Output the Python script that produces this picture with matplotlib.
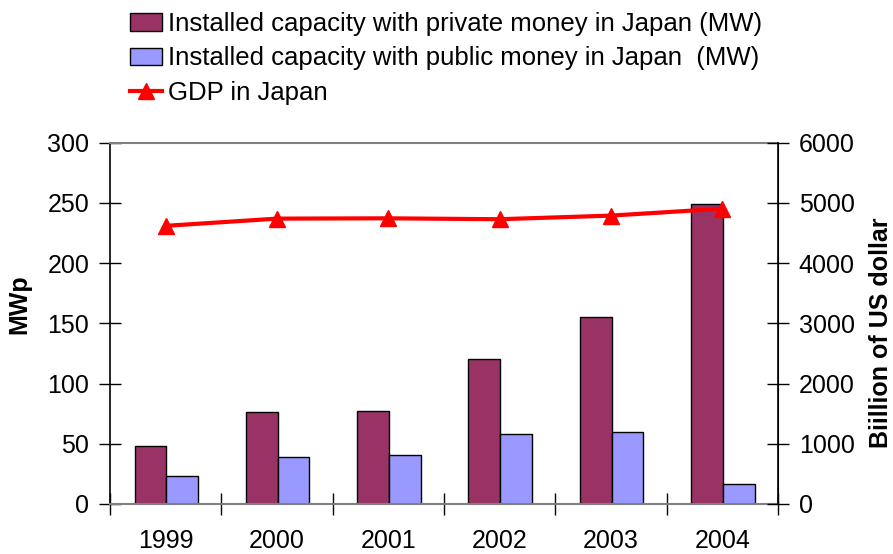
import numpy as np
import matplotlib
matplotlib.use("Agg")
import matplotlib.pyplot as plt
from matplotlib.lines import Line2D
from matplotlib.patches import Patch

years = ["1999", "2000", "2001", "2002", "2003", "2004"]
private_mw = [48, 76, 77, 120, 155, 249]
public_mw = [23, 39, 41, 58, 60, 17]
gdp_busd = [4620, 4740, 4745, 4730, 4790, 4905]

plt.rcParams['font.family'] = ['Liberation Sans', 'DejaVu Sans']

fig = plt.figure(figsize=(8.93, 5.54), dpi=100)
ax = fig.add_axes([0.1232, 0.0903, 0.748, 0.652])

x = np.arange(len(years))
w = 0.285
ax.bar(x + 0.005 - w / 2, private_mw, w, color='#993366', edgecolor='black', lw=1, zorder=2)
ax.bar(x + 0.005 + w / 2, public_mw, w, color='#9999FF', edgecolor='black', lw=1, zorder=2)
ax.set_xlim(-0.5, 5.5)
ax.set_ylim(0, 300)
ax.set_yticks(range(0, 301, 50))
ax.set_xticks(x)
ax.set_xticklabels(years)
ax.set_xticks(np.arange(-0.5, 6, 1), minor=True)
ax.tick_params(axis='x', which='major', length=0, pad=18, labelsize=18)
ax.tick_params(axis='x', which='minor', direction='inout', length=16, width=1)
ax.tick_params(axis='y', direction='inout', length=16, width=1, pad=7, labelsize=18)
for s in ['top', 'bottom']:
    ax.spines[s].set_color('#808080')
    ax.spines[s].set_linewidth(1.5)
ax.spines['left'].set_linewidth(1.2)
ax.set_ylabel('MWp', fontsize=18, fontweight='bold')
ax.yaxis.set_label_coords(-0.117, 0.554)

# GDP on the secondary axis
ax2 = ax.twinx()
ax2.plot(x, gdp_busd, color='#FF0000', lw=3, marker='^', markersize=12, zorder=3)
ax2.set_ylim(0, 6000)
ax2.set_yticks(range(0, 6001, 1000))
ax2.tick_params(axis='y', direction='inout', length=16, width=1, pad=7, labelsize=18)
ax2.spines['right'].set_linewidth(1.2)
ax2.spines['top'].set_visible(False)
ax2.spines['bottom'].set_visible(False)
ax2.spines['left'].set_visible(False)
ax2.set_ylabel('Biillion of US dollar', fontsize=18, fontweight='bold')
ax2.yaxis.set_label_coords(1.136, 0.474)

handles = [
    Patch(facecolor='#993366', edgecolor='black', lw=1),
    Patch(facecolor='#9999FF', edgecolor='black', lw=1),
    Line2D([0], [0], color='#FF0000', lw=3, marker='^', markersize=12),
]
labels = [
    'Installed capacity with private money in Japan (MW)',
    'Installed capacity with public money in Japan  (MW)',
    'GDP in Japan',
]
fig.legend(handles, labels, loc='upper left', bbox_to_anchor=(0.128, 1.006),
           frameon=False, fontsize=18.5, handlelength=1.25, handleheight=0.65,
           handletextpad=0.25, labelspacing=0.4, borderaxespad=0.2)

fig.savefig('out.png', dpi=100)
